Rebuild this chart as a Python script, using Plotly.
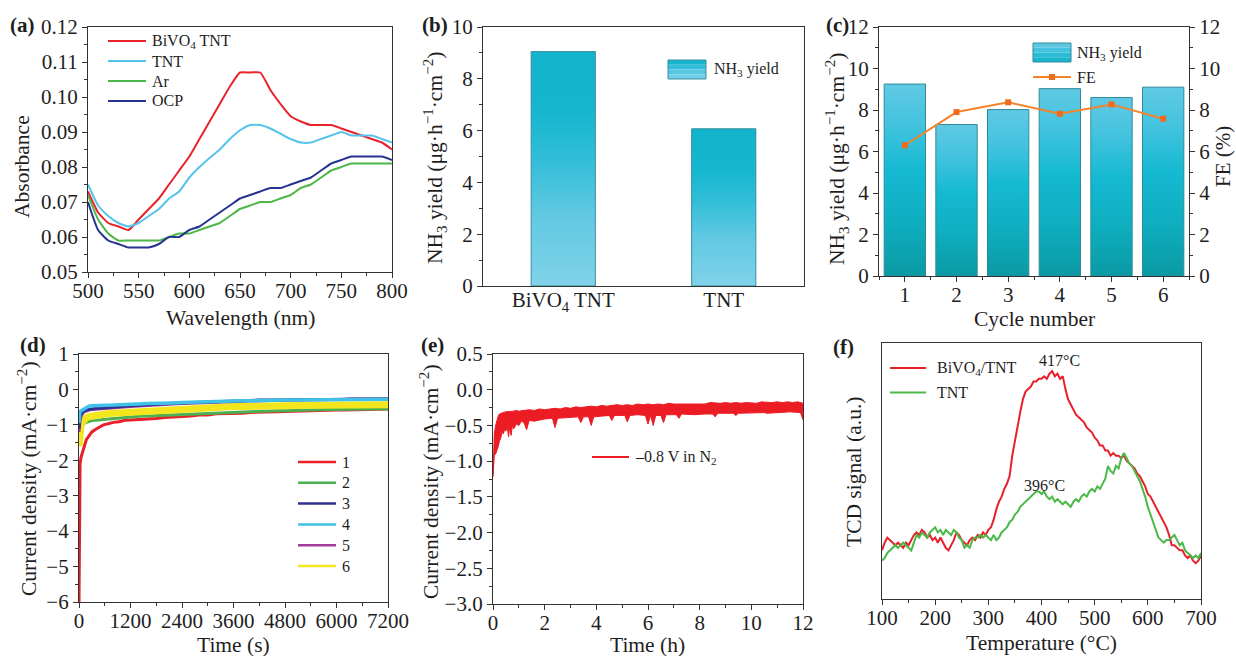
import plotly.graph_objects as go

W, H = 1236, 656
FONT = "Liberation Serif"
AXC = "#333333"
TXT = "#1e1e1e"

# ---------------- (a) UV-vis absorbance ----------------
wavelength = [500, 510, 520, 530, 540, 550, 560, 570, 580, 590,
              600, 610, 620, 630, 640, 650, 660, 670, 680, 690,
              700, 710, 720, 730, 740, 750, 760, 770, 780, 790, 800]
abs_bivo4_tnt = [0.073, 0.067, 0.064, 0.063, 0.062, 0.065, 0.068, 0.071, 0.075, 0.079,
                 0.083, 0.088, 0.093, 0.098, 0.103, 0.107, 0.107, 0.107, 0.102, 0.098,
                 0.0945, 0.093, 0.092, 0.092, 0.092, 0.091, 0.090, 0.089, 0.088, 0.087, 0.085]
abs_tnt = [0.075, 0.069, 0.066, 0.064, 0.063, 0.064, 0.066, 0.068, 0.071, 0.073,
           0.077, 0.080, 0.0826, 0.085, 0.088, 0.0905, 0.092, 0.092, 0.091, 0.0895,
           0.088, 0.087, 0.087, 0.088, 0.089, 0.090, 0.089, 0.089, 0.089, 0.088, 0.087]
abs_ar = [0.072, 0.065, 0.061, 0.059, 0.059, 0.059, 0.059, 0.059, 0.060, 0.061,
          0.061, 0.062, 0.063, 0.064, 0.066, 0.068, 0.069, 0.070, 0.070, 0.071,
          0.072, 0.074, 0.075, 0.077, 0.079, 0.080, 0.081, 0.081, 0.081, 0.081, 0.081]
abs_ocp = [0.070, 0.062, 0.059, 0.058, 0.057, 0.057, 0.057, 0.058, 0.060, 0.060,
           0.062, 0.063, 0.065, 0.067, 0.069, 0.071, 0.072, 0.073, 0.074, 0.074,
           0.075, 0.076, 0.077, 0.079, 0.081, 0.082, 0.083, 0.083, 0.083, 0.083, 0.082]
a_names = ["BiVO<sub>4</sub> TNT", "TNT", "Ar", "OCP"]

# ---------------- (b) NH3 yield per sample ----------------
b_samples = ["BiVO<sub>4</sub> TNT", "TNT"]
b_yield = [9.05, 6.07]

# ---------------- (c) cycling ----------------
cycles = [1, 2, 3, 4, 5, 6]
c_yield = [9.25, 7.30, 8.02, 9.03, 8.60, 9.10]
c_fe = [6.30, 7.90, 8.37, 7.82, 8.27, 7.58]

# ---------------- (d) chronoamperometry, 6 runs ----------------
d_time = [0, 10, 25, 50, 80, 120, 170, 230, 300, 380, 470, 570, 680, 800, 930, 1070,
          1200, 1400, 1600, 1800, 2000, 2200, 2400, 2600, 2800, 3000, 3200, 3400, 3600,
          3800, 4000, 4200, 4400, 4600, 4800, 5000, 5200, 5400, 5600, 5800, 6000, 6200,
          6400, 6600, 6800, 7000, 7200]
d_run1 = [-6.0, -2.6, -2.1, -1.9, -1.76, -1.6, -1.42, -1.32, -1.2, -1.13, -1.06, -1.0,
          -0.97, -0.93, -0.91, -0.87, -0.86,
          -0.85, -0.82, -0.82, -0.79, -0.78, -0.76, -0.75, -0.72, -0.72, -0.69, -0.69, -0.67,
          -0.67, -0.65, -0.65, -0.63, -0.63, -0.62, -0.61, -0.61, -0.60, -0.59, -0.59, -0.58,
          -0.58, -0.57, -0.56, -0.56, -0.55, -0.55]
d_run2 = [-1.6, -1.3, -1.15, -1.06, -1.0, -0.96, -0.93, -0.9, -0.88, -0.87, -0.86, -0.84,
          -0.83, -0.81, -0.8, -0.78, -0.77,
          -0.76, -0.75, -0.74, -0.73, -0.72, -0.71, -0.70, -0.68, -0.67, -0.66, -0.65, -0.63,
          -0.63, -0.62, -0.62, -0.61, -0.60, -0.60, -0.59, -0.59, -0.58, -0.58, -0.57, -0.57,
          -0.56, -0.56, -0.56, -0.55, -0.55, -0.55]
d_run3 = [-1.1, -0.9, -0.78, -0.7, -0.64, -0.6, -0.58, -0.56, -0.55, -0.54, -0.53, -0.52,
          -0.51, -0.50, -0.49, -0.47, -0.46,
          -0.45, -0.43, -0.42, -0.41, -0.39, -0.38, -0.37, -0.36, -0.35, -0.34, -0.32, -0.31,
          -0.31, -0.31, -0.30, -0.30, -0.30, -0.29, -0.29, -0.29, -0.29, -0.28, -0.28, -0.28,
          -0.28, -0.27, -0.27, -0.27, -0.27, -0.27]
d_run4 = [-0.95, -0.72, -0.62, -0.6, -0.58, -0.53, -0.5, -0.47, -0.46, -0.46, -0.45, -0.45,
          -0.44, -0.44, -0.43, -0.43, -0.42,
          -0.41, -0.40, -0.40, -0.39, -0.38, -0.37, -0.36, -0.36, -0.35, -0.34, -0.33, -0.32,
          -0.32, -0.32, -0.31, -0.31, -0.31, -0.30, -0.30, -0.30, -0.30, -0.29, -0.29, -0.29,
          -0.29, -0.28, -0.28, -0.28, -0.28, -0.28]
d_run5 = [-1.2, -1.0, -0.86, -0.76, -0.68, -0.63, -0.6, -0.58, -0.57, -0.56, -0.55, -0.54,
          -0.53, -0.52, -0.51, -0.49, -0.48,
          -0.47, -0.45, -0.44, -0.42, -0.41, -0.40, -0.39, -0.38, -0.37, -0.36, -0.34, -0.33,
          -0.33, -0.32, -0.32, -0.31, -0.31, -0.30, -0.30, -0.29, -0.29, -0.29, -0.28, -0.28,
          -0.28, -0.27, -0.27, -0.26, -0.26, -0.26]
d_run6 = [-1.6, -1.3, -1.15, -1.0, -0.93, -0.86, -0.8, -0.77, -0.75, -0.73, -0.72, -0.7,
          -0.68, -0.67, -0.66, -0.64, -0.63,
          -0.62, -0.61, -0.60, -0.59, -0.58, -0.57, -0.56, -0.54, -0.53, -0.51, -0.50, -0.48,
          -0.48, -0.47, -0.47, -0.47, -0.46, -0.46, -0.46, -0.45, -0.45, -0.45, -0.45, -0.44,
          -0.44, -0.44, -0.44, -0.43, -0.43, -0.43]
d_names = ["1", "2", "3", "4", "5", "6"]

# ---------------- (e) 12 h stability: noisy band (upper and lower edges) ----------------
e_upper_time = [0, 0.05, 0.1, 0.15, 0.2, 0.25, 0.3, 0.4, 0.5, 0.6, 0.7, 0.8, 0.9, 1.0,
                1.2, 1.4, 1.6, 1.8, 2.0, 2.2, 2.4, 2.6, 2.8, 3.0,
                3.2, 3.4, 3.6, 3.8, 4.0, 4.2, 4.4, 4.6, 4.8, 5.0,
                5.2, 5.4, 5.6, 5.8, 6.0, 6.2, 6.4, 6.6, 6.8, 7.0,
                7.2, 7.4, 7.6, 7.8, 8.0, 8.2, 8.4, 8.6, 8.8, 9.0,
                9.2, 9.4, 9.6, 9.8, 10.0, 10.2, 10.4, 10.6, 10.8, 11.0,
                11.2, 11.4, 11.6, 11.8, 12.0]
e_upper = [-1.20, -0.62, -0.50, -0.42, -0.37, -0.34, -0.33, -0.32, -0.31, -0.31, -0.30,
           -0.30, -0.29, -0.30,
           -0.29, -0.28, -0.29, -0.27, -0.28, -0.27, -0.26, -0.27, -0.25, -0.26,
           -0.24, -0.25, -0.24, -0.23, -0.24, -0.22, -0.23, -0.22, -0.21, -0.22,
           -0.21, -0.22, -0.20, -0.21, -0.20, -0.21, -0.20, -0.21, -0.19, -0.20,
           -0.20, -0.19, -0.20, -0.19, -0.19, -0.20, -0.18, -0.19, -0.19, -0.18,
           -0.19, -0.18, -0.19, -0.18, -0.18, -0.19, -0.17, -0.18, -0.18, -0.17,
           -0.18, -0.17, -0.18, -0.17, -0.19]
e_lower_time = [0, 0.05, 0.1, 0.15, 0.2, 0.25, 0.3, 0.35, 0.4, 0.45, 0.5, 0.55, 0.6, 0.65,
                0.7, 0.75, 0.8, 0.9, 1.0, 1.1, 1.2, 1.3, 1.4, 1.6, 1.8, 2.0, 2.3, 2.4, 2.5,
                2.8, 3.0, 3.3, 3.4, 3.5, 3.7, 3.8, 3.9, 4.2, 4.5, 4.6, 4.7, 5.1, 5.2, 5.3,
                5.6, 5.9, 6.0, 6.1, 6.2, 6.3, 6.5, 6.6, 6.7, 7.1, 7.2, 7.3, 7.8, 8.2, 8.5,
                8.6, 8.7, 9.3, 9.4, 9.5, 10.0, 10.5, 10.6, 11.0, 11.5, 11.9, 12.0]
e_lower = [-1.22, -0.92, -0.90, -0.86, -0.80, -0.72, -0.68, -0.58, -0.62, -0.55, -0.58,
           -0.50, -0.66, -0.52, -0.64, -0.50, -0.55, -0.48, -0.50, -0.44, -0.46, -0.56,
           -0.43, -0.44, -0.42, -0.41, -0.40, -0.53, -0.40, -0.39, -0.39, -0.38, -0.46,
           -0.38, -0.38, -0.50, -0.38, -0.37, -0.36, -0.43, -0.36, -0.36, -0.45, -0.36,
           -0.35, -0.36, -0.48, -0.36, -0.50, -0.36, -0.36, -0.46, -0.35, -0.35, -0.40,
           -0.34, -0.35, -0.34, -0.34, -0.38, -0.33, -0.33, -0.36, -0.33, -0.32, -0.32,
           -0.33, -0.32, -0.31, -0.32, -0.42]
e_name = "\u20130.8 V in N<sub>2</sub>"

# ---------------- (f) NH3-TPD ----------------
f_temp = [100, 105, 110, 115, 120, 125, 130, 135, 140, 145,
          150, 155, 160, 165, 170, 175, 180, 185, 190, 195,
          200, 205, 210, 215, 220, 225, 230, 235, 240, 245,
          250, 255, 260, 265, 270, 275, 280, 285, 290, 295,
          300, 305, 310, 315, 320, 325, 330, 335, 340, 345,
          350, 355, 360, 365, 370, 375, 380, 385, 390, 395,
          400, 405, 410, 415, 420, 425, 430, 435, 440, 445,
          450, 455, 460, 465, 470, 475, 480, 485, 490, 495,
          500, 505, 510, 515, 520, 525, 530, 535, 540, 545,
          550, 555, 560, 565, 570, 575, 580, 585, 590, 595,
          600, 605, 610, 615, 620, 625, 630, 635, 640, 645,
          650, 655, 660, 665, 670, 675, 680, 685, 690, 695, 700]
f_bivo4_tnt = [0.19, 0.22, 0.24, 0.23, 0.22, 0.21, 0.22, 0.21, 0.20, 0.22,
               0.21, 0.23, 0.25, 0.26, 0.25, 0.27, 0.26, 0.24, 0.25, 0.23,
               0.24, 0.22, 0.24, 0.22, 0.20, 0.19, 0.21, 0.23, 0.26, 0.25,
               0.23, 0.22, 0.21, 0.23, 0.24, 0.23, 0.25, 0.24, 0.26, 0.25,
               0.27, 0.28, 0.31, 0.35, 0.38, 0.40, 0.43, 0.45, 0.48, 0.56,
               0.62, 0.67, 0.73, 0.78, 0.81, 0.82, 0.83, 0.85, 0.85, 0.86,
               0.86, 0.87, 0.86, 0.88, 0.89, 0.87, 0.88, 0.86, 0.87, 0.82,
               0.78, 0.76, 0.74, 0.72, 0.71, 0.70, 0.69, 0.67, 0.66, 0.65,
               0.63, 0.62, 0.60, 0.60, 0.58, 0.58, 0.56, 0.57, 0.56, 0.56,
               0.55, 0.56, 0.54, 0.53, 0.52, 0.51, 0.49, 0.48, 0.46, 0.44,
               0.41, 0.40, 0.38, 0.36, 0.34, 0.32, 0.30, 0.28, 0.25, 0.21,
               0.21, 0.20, 0.19, 0.19, 0.17, 0.16, 0.17, 0.15, 0.14, 0.15, 0.17]
f_tnt = [0.15, 0.16, 0.18, 0.19, 0.20, 0.21, 0.20, 0.21, 0.22, 0.21,
         0.20, 0.19, 0.22, 0.25, 0.24, 0.26, 0.25, 0.24, 0.26, 0.27,
         0.28, 0.26, 0.27, 0.25, 0.27, 0.26, 0.25, 0.27, 0.26, 0.24,
         0.23, 0.20, 0.21, 0.20, 0.23, 0.24, 0.24, 0.25, 0.24, 0.25,
         0.24, 0.23, 0.25, 0.23, 0.24, 0.26, 0.27, 0.28, 0.30, 0.31,
         0.33, 0.34, 0.36, 0.37, 0.38, 0.39, 0.40, 0.41, 0.42, 0.42,
         0.41, 0.42, 0.40, 0.39, 0.40, 0.38, 0.39, 0.38, 0.37, 0.38,
         0.37, 0.36, 0.38, 0.39, 0.38, 0.40, 0.41, 0.40, 0.42, 0.43,
         0.42, 0.44, 0.43, 0.45, 0.47, 0.52, 0.50, 0.49, 0.52, 0.51,
         0.55, 0.57, 0.55, 0.53, 0.52, 0.50, 0.48, 0.46, 0.43, 0.40,
         0.36, 0.33, 0.30, 0.27, 0.24, 0.23, 0.22, 0.23, 0.23, 0.24,
         0.25, 0.23, 0.21, 0.22, 0.19, 0.18, 0.17, 0.16, 0.17, 0.16, 0.18]
f_names = ["BiVO<sub>4</sub>/TNT", "TNT"]
f_peaks = [("417\u00b0C", 433, 0.93), ("396\u00b0C", 405, 0.445)]


# ---------------- helpers ----------------
def fx(p):
    return p / W


def fy(p):
    return 1 - p / H


def axis(dom=None, anchor=None, rng=None, dtick=None, minor=None, fmt=None,
         mirror=True, ticks="outside", labels=True, standoff=0, **kw):
    d = dict(range=rng, showline=True, linecolor=AXC, linewidth=1.3, mirror=mirror,
             ticks=ticks, ticklen=5, tickwidth=1.2, tickcolor=AXC, showgrid=False,
             zeroline=False, automargin=False, showticklabels=labels,
             ticklabelstandoff=standoff,
             tickfont=dict(family=FONT, size=21, color=TXT), fixedrange=True)
    if dom is not None:
        d["domain"] = dom
    if anchor is not None:
        d["anchor"] = anchor
    if dtick is not None:
        d["dtick"] = dtick
    if fmt is not None:
        d["tickformat"] = fmt
    if minor is not None:
        d["minor"] = dict(dtick=minor, ticks="outside", ticklen=3, tickwidth=1,
                          tickcolor=AXC, showgrid=False)
    d.update(kw)
    return d


fig = go.Figure()

# (a)
a_colors = ["#e8232b", "#55c4ea", "#4db848", "#26338f"]
for name, vals, col in zip(a_names, [abs_bivo4_tnt, abs_tnt, abs_ar, abs_ocp], a_colors):
    fig.add_trace(go.Scatter(x=wavelength, y=vals, mode="lines", name=name,
                             line=dict(color=col, width=2, shape="spline", smoothing=0.5),
                             xaxis="x", yaxis="y", showlegend=False))

# (b) bars with vertical gradient
bw = 0.4
for i, v in enumerate(b_yield):
    fig.add_trace(go.Scatter(
        x=[i - bw / 2, i + bw / 2, i + bw / 2, i - bw / 2, i - bw / 2],
        y=[0, 0, v, v, 0], mode="lines", fill="toself",
        line=dict(color="#3b8f9d", width=1),
        fillgradient=dict(type="vertical", start=0, stop=v,
                          colorscale=[[0, "#80d2e9"], [0.3, "#62c9e3"], [0.55, "#30bdd7"],
                                      [0.75, "#15b6cf"], [1, "#11b4cc"]]),
        xaxis="x2", yaxis="y2", showlegend=False, hoverinfo="skip"))

# (c) bars with vertical gradient + FE line
cw = 0.8
for c, v in zip(cycles, c_yield):
    fig.add_trace(go.Scatter(
        x=[c - cw / 2, c + cw / 2, c + cw / 2, c - cw / 2, c - cw / 2],
        y=[0, 0, v, v, 0], mode="lines", fill="toself",
        line=dict(color="#2f8b98", width=1),
        fillgradient=dict(type="vertical", start=0, stop=v,
                          colorscale=[[0, "#0a9aa4"], [0.3, "#0fafc1"], [0.55, "#15b9d2"],
                                      [0.8, "#45c3df"], [1, "#60c9e4"]]),
        xaxis="x3", yaxis="y3", showlegend=False, hoverinfo="skip"))
fig.add_trace(go.Scatter(x=cycles, y=c_fe, mode="lines+markers", name="FE",
                         line=dict(color="#f4832c", width=2),
                         marker=dict(symbol="square", size=6, color="#f26b1d"),
                         xaxis="x3", yaxis="y7", showlegend=False))

# (d)  draw order chosen so the overlaps look like the reference
d_runs = [d_run1, d_run2, d_run3, d_run4, d_run5, d_run6]
d_colors = ["#e8202a", "#4caf50", "#2e3192", "#3fc1e8", "#a23d9b", "#f3e61c"]
d_widths = [3, 3, 3, 3.5, 3, 7]
for k in [0, 1, 5, 4, 2, 3]:
    fig.add_trace(go.Scatter(x=d_time, y=d_runs[k], mode="lines", name=d_names[k],
                             line=dict(color=d_colors[k], width=d_widths[k]),
                             xaxis="x4", yaxis="y4", showlegend=False))

# (e) band between lower and upper edges of the noisy trace
fig.add_trace(go.Scatter(x=e_lower_time, y=e_lower, mode="lines", name=e_name,
                         line=dict(color="#ec1c24", width=1), xaxis="x5", yaxis="y5",
                         showlegend=False))
fig.add_trace(go.Scatter(x=e_upper_time, y=e_upper, mode="lines", name=e_name,
                         line=dict(color="#ec1c24", width=1), fill="tonexty",
                         fillcolor="#ec1c24", xaxis="x5", yaxis="y5", showlegend=False))

# (f)
f_colors = ["#e8202a", "#4cb848"]
for name, vals, col in zip(f_names, [f_bivo4_tnt, f_tnt], f_colors):
    fig.add_trace(go.Scatter(x=f_temp, y=vals, mode="lines", name=name,
                             line=dict(color=col, width=2), xaxis="x6", yaxis="y6",
                             showlegend=False))

# ---------------- layout ----------------
XS = -5  # x tick labels a bit closer to the axis
fig.update_layout(
    width=W, height=H, margin=dict(l=0, r=0, t=0, b=0),
    paper_bgcolor="white", plot_bgcolor="white", showlegend=False,
    font=dict(family=FONT, color=TXT),
    xaxis=axis([fx(88), fx(392)], "y", [500, 800], 50, 25, standoff=XS),
    yaxis=axis([fy(272), fy(27)], "x", [0.05, 0.12], 0.01, 0.005, ".2f"),
    xaxis2=axis([fx(483), fx(804)], "y2", [-0.5, 1.5], ticks="", standoff=XS,
                tickmode="array", tickvals=[0, 1], ticktext=b_samples),
    yaxis2=axis([fy(286), fy(27)], "x2", [0, 10], 2, 1),
    xaxis3=axis([fx(879), fx(1189)], "y3", [0.5, 6.5], 1, 0.5, standoff=XS),
    yaxis3=axis([fy(276), fy(27)], "x3", [0, 12], 2, 1, mirror=False),
    yaxis7=axis(None, "x3", [0, 12], 2, 1, mirror=False, overlaying="y3", side="right"),
    xaxis4=axis([fx(79), fx(388)], "y4", [0, 7200], 1200, 600, standoff=XS),
    yaxis4=axis([fy(602), fy(354)], "x4", [-6, 1], 1, 0.5),
    xaxis5=axis([fx(493), fx(803)], "y5", [0, 12], 2, 1, standoff=XS),
    yaxis5=axis([fy(604), fy(354)], "x5", [-3, 0.5], 0.5, 0.25, ".1f"),
    xaxis6=axis([fx(882), fx(1201)], "y6", [100, 700], 100, 50, standoff=XS),
    yaxis6=axis([fy(599), fy(343)], "x6", [0, 1], ticks="", labels=False),
)

annotations = []
shapes = []


def text(t, x, y, size=21.5, angle=0, xanchor="center", bold=False):
    annotations.append(dict(text=f"<b>{t}</b>" if bold else t, x=fx(x), y=fy(y),
                            xref="paper", yref="paper", showarrow=False,
                            xanchor=xanchor, yanchor="middle", textangle=angle,
                            font=dict(family=FONT, size=size, color=TXT)))


def hline(x0, x1, y, col, w):
    shapes.append(dict(type="line", xref="paper", yref="paper", x0=fx(x0), x1=fx(x1),
                       y0=fy(y), y1=fy(y), line=dict(color=col, width=w)))


def rect(x0, y0, x1, y1, fill, line=None):
    shapes.append(dict(type="rect", xref="paper", yref="paper", x0=fx(x0), x1=fx(x1),
                       y0=fy(y1), y1=fy(y0), fillcolor=fill,
                       line=dict(width=1 if line else 0, color=line or fill)))


# panel labels
for lab, x, y in [("(a)", 8, 25), ("(b)", 420, 25), ("(c)", 824, 25),
                  ("(d)", 18, 345), ("(e)", 419, 345), ("(f)", 831, 347)]:
    text(lab, x, y, 21, xanchor="left", bold=True)

# axis titles
ylab_nh3 = "NH<sub>3</sub> yield (\u03bcg\u00b7h<sup>\u22121</sup>\u00b7cm<sup>\u22122</sup>)"
ylab_j = "Current density (mA\u00b7cm<sup>\u22122</sup>)"
text("Wavelength (nm)", 240, 318)
text("Absorbance", 22, 167, angle=-90)
text(ylab_nh3, 435, 158, angle=-90)
text(ylab_nh3, 837, 159, angle=-90)
text("FE (%)", 1223, 157, size=21, angle=-90)
text("Cycle number", 1034, 319)
text(ylab_j, 27, 479, angle=-90)
text("Time (s)", 233, 645)
text(ylab_j, 429, 482, angle=-90)
text("Time (h)", 647, 645)
text("TCD signal (a.u.)", 854, 472, angle=-90)
text("Temperature (\u00b0C)", 1041, 643)

# legend (a)
for k, (name, col) in enumerate(zip(a_names, a_colors)):
    y = 41 + 20 * k
    hline(108, 146, y, col, 2)
    text(name, 150, y, 16, xanchor="left")

# legend (b)
for k, col in enumerate(["#17b6cf", "#34bdd8", "#56c6e1", "#72cde6"]):
    rect(668, 60 + k * 4.75, 706, 60 + (k + 1) * 4.75, col)
rect(668, 60, 706, 79, "rgba(0,0,0,0)", "#3b8f9d")
text("NH<sub>3</sub> yield", 712, 69, 16, xanchor="left")

# legend (c)
for k, col in enumerate(["#5ec8e3", "#45c2de", "#2dbbd6", "#19b5cc"]):
    rect(1033, 43 + k * 4.75, 1071, 43 + (k + 1) * 4.75, col)
rect(1033, 43, 1071, 62, "rgba(0,0,0,0)", "#2f8b98")
hline(1033, 1071, 77, "#f4832c", 2)
rect(1049, 74, 1055, 80, "#f26b1d")
text("NH<sub>3</sub> yield", 1075, 53, 16, xanchor="left")
text("FE", 1075, 77, 16, xanchor="left")

# legend (d)
for k, (name, col) in enumerate(zip(d_names, d_colors)):
    y = 462 + 20.8 * k
    hline(298, 336, y, col, 2.5)
    text(name, 340, y, 16, xanchor="left")

# legend (e)
hline(592, 629, 457, "#ec1c24", 2)
text(e_name, 633, 457, 16, xanchor="left")

# legend (f)
for k, (name, col) in enumerate(zip(f_names, f_colors)):
    y = 368 + 24.5 * k
    hline(890, 926, y, col, 2)
    text(name, 935, y, 16, xanchor="left")

# peak labels in (f)
for lbl, tx, ty in f_peaks:
    annotations.append(dict(text=lbl, x=tx, y=ty, xref="x6", yref="y6", showarrow=False,
                            font=dict(family=FONT, size=16, color=TXT)))

fig.update_layout(annotations=annotations, shapes=shapes)

fig.write_html("out.html")
